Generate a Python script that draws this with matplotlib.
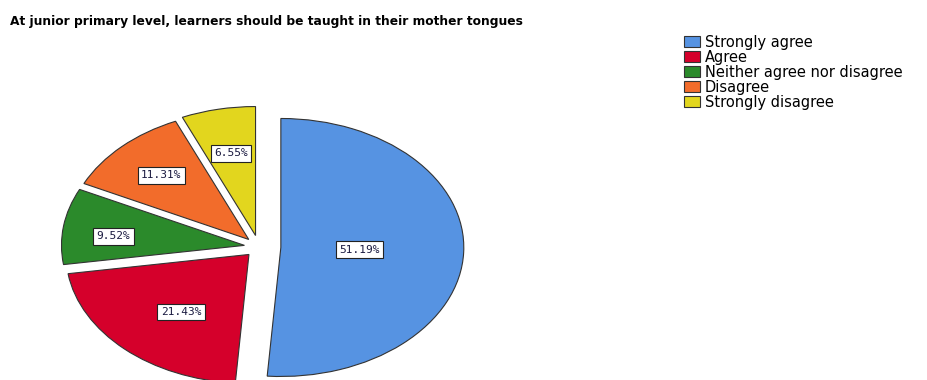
import numpy as np
import matplotlib
matplotlib.use('Agg')
import matplotlib.pyplot as plt

title = 'At junior primary level, learners should be taught in their mother tongues'
categories = ['Strongly agree', 'Agree', 'Neither agree nor disagree', 'Disagree', 'Strongly disagree']
percents = [51.19, 21.43, 9.52, 11.31, 6.55]
colors = ['#5693e2', '#d5002b', '#2b8a2b', '#f26c2b', '#e2d61e']

# spacing of each slice from the centre, and where its % box sits inside the slice
explode = [0.12, 0.08, 0.08, 0.08, 0.09]
label_dist = [0.43, 0.58, 0.72, 0.69, 0.65]
label_turn = [0, 3, 3, 0, 0]   # degrees, counter-clockwise nudge from the middle angle

fig = plt.figure(figsize=(9.28, 3.8), dpi=100)
ax = fig.add_axes([0.003, -0.125, 0.552, 0.9505])

wedges, texts, autotexts = ax.pie(percents, colors=colors, explode=explode,
                                  startangle=90, counterclock=False,
                                  autopct='%1.2f%%',
                                  wedgeprops=dict(edgecolor='#333333', linewidth=0.8))
ax.set_aspect('auto')
ax.set_xlim(-1.4, 1.4)
ax.set_ylim(-1.4, 1.4)

# move the % boxes along each slice's middle angle
for w, t, d, turn in zip(wedges, autotexts, label_dist, label_turn):
    mid = np.deg2rad((w.theta1 + w.theta2) / 2 + turn)
    cx, cy = w.center
    t.set_position((cx + d * np.cos(mid), cy + d * np.sin(mid)))
    t.set_fontsize(8)
    t.set_family('DejaVu Sans Mono')
    t.set_color('#1a1a40')
    t.set_bbox(dict(boxstyle='square,pad=0.3', facecolor='white', edgecolor='#222222', linewidth=0.8))

fig.text(0.011, 0.944, title, fontsize=8.85, fontweight='bold', va='center', ha='left')

fig.legend(wedges, categories, loc='upper left', bbox_to_anchor=(0.737, 0.909),
           frameon=False, fontsize=10.5, handlelength=1.1, handleheight=0.7,
           handletextpad=0.35, labelspacing=0.0, borderpad=0, borderaxespad=0)

fig.savefig('out.png', dpi=100)
